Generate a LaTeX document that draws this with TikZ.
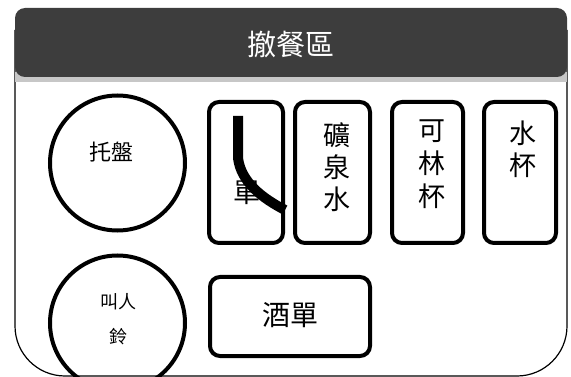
\documentclass[tikz,border=0pt]{standalone}
\usepackage{fontspec}
\newfontfamily\cjk{Noto Sans CJK TC}
\begin{document}
\begin{tikzpicture}[x=1pt,y=-1pt,
  card/.style={draw,line width=4pt,rounded corners=10pt,inner sep=0pt},
  dish/.style={draw,circle,line width=4pt,minimum size=135pt,inner sep=0pt},
  word/.style={inner sep=0pt,align=center,font=\cjk\fontsize{27}{32}\selectfont}]
\useasboundingbox (0,0) rectangle (571,377);
\clip (0,0) rectangle (571,377);

% outer frame
\draw[line width=1.2pt,rounded corners=50pt] (15,30) -- (15,376) -- (567,376) -- (567,30);

% header band
\fill[black!22] (15,72) rectangle (567,82);
\fill[black!76,rounded corners=10pt] (15,8) rectangle (567,77);
\node[word,text=white,font=\cjk\fontsize{29}{29}\selectfont] (title) at (291,45) {撤餐區};

% tray and bell
\node[dish] (tray) at (117.5,163) {};
\node[word,font=\cjk\fontsize{22}{22}\selectfont] (traytext) at (111,152) {托盤};
\node[dish] (bell) at (117.5,323) {};
\node[word,font=\cjk\fontsize{18}{35}\selectfont] (belltext) at (118,319) {叫人\\鈴};

% cards in the top row
\node[card,minimum width=74,minimum height=141] (menu) at (246,172.5) {};
\node[word] (menutext) at (247,193) {單};
\draw[line width=10pt] (238,116) -- (238,158) .. controls (241,182) and (262,198) .. (285,210);

\node[card,minimum width=75,minimum height=141] (water) at (332.5,172.5) {};
\node[word] (watertext) at (337,167) {礦\\泉\\水};

\node[card,minimum width=71,minimum height=141] (collins) at (427.5,172.5) {};
\node[word,font=\cjk\fontsize{27}{33}\selectfont] (collinstext) at (432,164) {可\\林\\杯};

\node[card,minimum width=72,minimum height=141] (glass) at (520,172.5) {};
\node[word] (glasstext) at (523,149) {水\\杯};

% wine list
\node[card,minimum width=160,minimum height=79] (wine) at (290,316.5) {};
\node[word,font=\cjk\fontsize{28}{28}\selectfont] (winetext) at (290,315) {酒單};
\end{tikzpicture}
\end{document}
